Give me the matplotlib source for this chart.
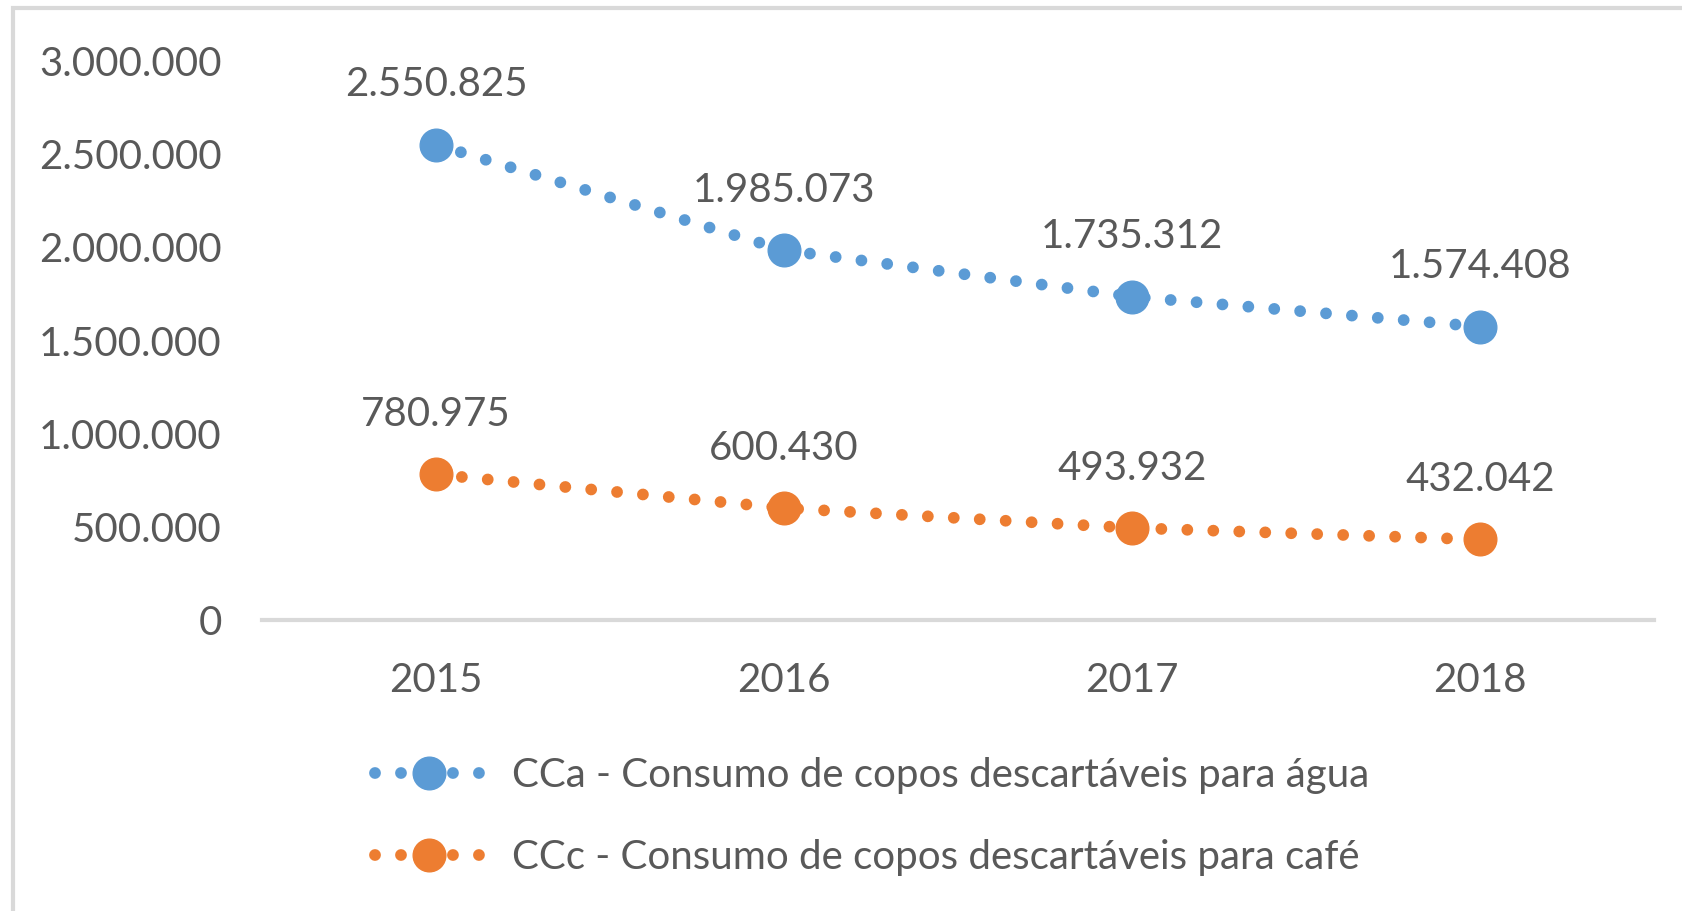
import numpy as np
import matplotlib.pyplot as plt
from matplotlib.patches import Rectangle
from matplotlib.ticker import FuncFormatter

years = ['2015', '2016', '2017', '2018']
agua = [2550825, 1985073, 1735312, 1574408]
cafe = [780975, 600430, 493932, 432042]
label_agua = 'CCa - Consumo de copos descartáveis para água'
label_cafe = 'CCc - Consumo de copos descartáveis para café'

blue = '#5B9BD5'
orange = '#ED7D31'
txt = '#595959'
grid = '#D9D9D9'

plt.rcParams['font.family'] = ['Lato', 'DejaVu Sans']
fs = 29

W, H = 1683, 911
fig = plt.figure(figsize=(W / 100, H / 100), dpi=100)
ax = fig.add_axes([262 / W, 1 - 620 / H, (1654 - 262) / W, (620 - 61) / H])

# outer chart border (left and top visible)
fig.patches.append(Rectangle((13 / W, -0.1), 1.2, (H - 8) / H + 0.1,
                             transform=fig.transFigure, fill=False,
                             edgecolor=grid, lw=3))

x = np.arange(len(years))
dots = (0, (0.001, 2.2))
for vals, col, lab in [(agua, blue, label_agua), (cafe, orange, label_cafe)]:
    ax.plot(x, vals, color=col, lw=8.5, linestyle=dots, dash_capstyle='round',
            marker='o', markersize=23.5, markeredgecolor=col, label=lab)
    for xi, v in zip(x, vals):
        ax.annotate(f'{v:,}'.replace(',', '.'), (xi, v), xytext=(0, 43),
                    textcoords='offset points', ha='center', va='center',
                    fontsize=fs, color=txt)

ax.set_xlim(-0.5, 3.5)
ax.set_ylim(0, 3000000)
ax.set_yticks(np.arange(0, 3000001, 500000))
ax.yaxis.set_major_formatter(FuncFormatter(lambda v, p: f'{int(v):,}'.replace(',', '.')))
ax.set_xticks(x)
ax.set_xticklabels(years)
for s in ['top', 'right', 'left']:
    ax.spines[s].set_visible(False)
ax.spines['bottom'].set_color(grid)
ax.spines['bottom'].set_linewidth(3)
ax.tick_params(length=0, labelsize=fs, labelcolor=txt)
ax.tick_params(axis='x', pad=30)
ax.tick_params(axis='y', pad=29)

leg = fig.legend(loc='upper left', bbox_to_anchor=(375 / W, 1 - 757 / H),
                 frameon=False, fontsize=fs, handlelength=2.66, handletextpad=0.75,
                 labelspacing=1.12, numpoints=1, borderaxespad=0, borderpad=0)
for t in leg.get_texts():
    t.set_color(txt)

fig.savefig('out.png', dpi=100)
